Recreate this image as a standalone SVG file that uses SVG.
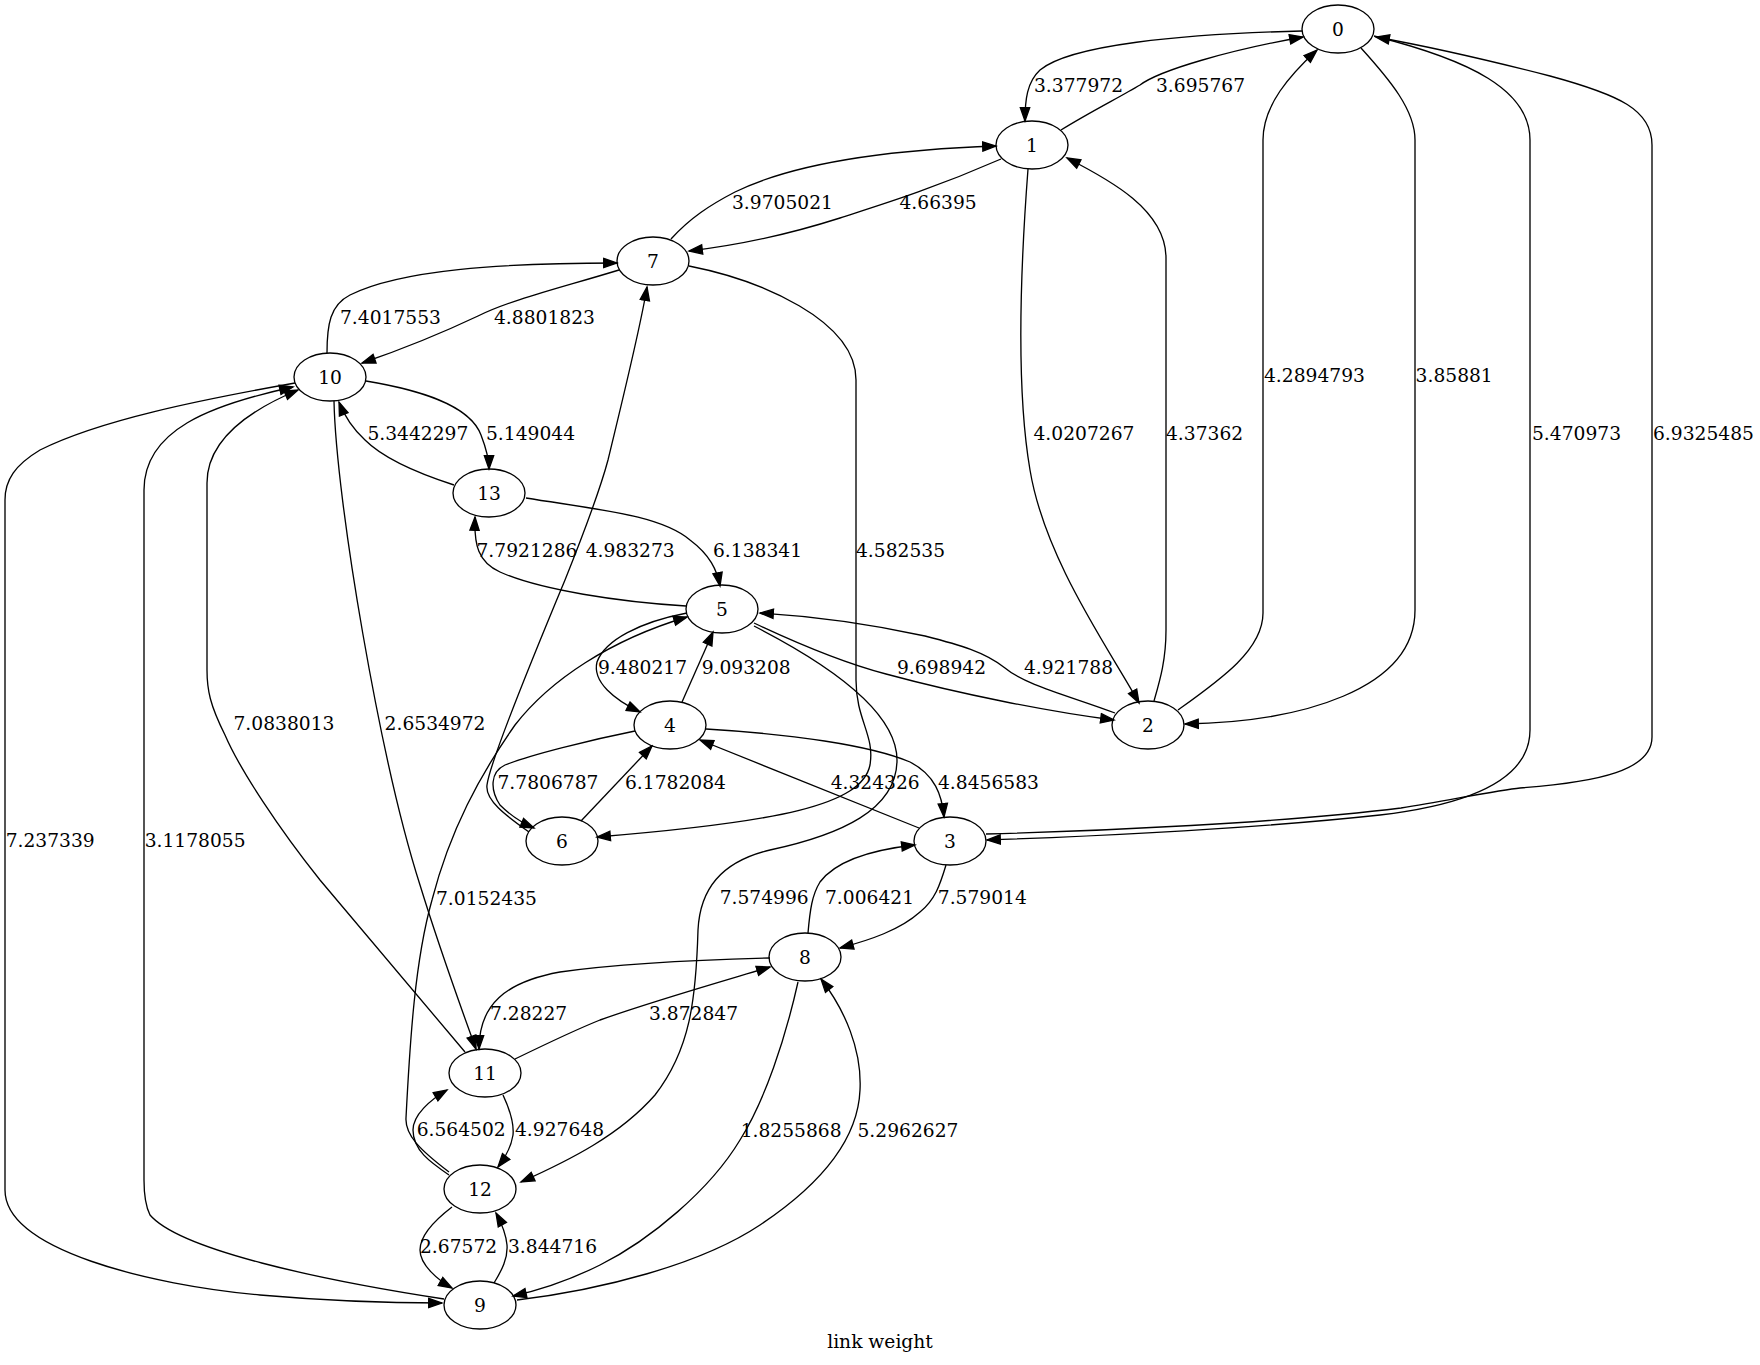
<svg xmlns="http://www.w3.org/2000/svg" width="1760" height="1365" viewBox="0 0 1760 1365">
<style>
.node ellipse{fill:none;stroke:#000;stroke-width:1.33}
text{font-family:"DejaVu Serif","Liberation Serif",serif;font-size:18.67px;fill:#000}
.node text{text-anchor:middle}
#edges path{fill:none;stroke:#000;stroke-width:1.33;marker-end:url(#arr)}
</style>
<defs>
<marker id="arr" markerUnits="userSpaceOnUse" markerWidth="16" markerHeight="12" viewBox="-1 -1 16 12" refX="13.3" refY="5" orient="auto">
<path d="M0,0.33 L13.3,5 L0,9.67 Z" fill="#000" stroke="#000" stroke-width="1.33"/>
</marker>
</defs>
<rect width="1760" height="1365" fill="#fff"/>
<g id="edges">
<path d="M1302,31 C1180,34 1070,45 1040,70 C1027,82 1025,100 1025,121"/>
<path d="M1061,130 C1090,112 1120,97 1140,85 C1160,70 1230,50 1303,37"/>
<path d="M1361,48 C1390,80 1415,110 1415,140 L1415,610 C1415,690 1300,722 1185,724"/>
<path d="M1178,710 C1220,680 1263,650 1263,613 L1263,140 C1263,105 1290,75 1317,50"/>
<path d="M1374,36 C1470,60 1530,90 1530,140 L1530,730 C1530,790 1440,808 1380,815 C1260,828 1100,836 987,840"/>
<path d="M986,834 C1100,831 1280,823 1401,808 C1450,800 1500,790 1520,788 C1600,782 1652,770 1652,737 L1652,145 C1652,110 1620,95 1550,76 C1480,58 1420,45 1376,37"/>
<path d="M1001,159 C930,190 880,205 840,218 C790,234 740,245 689,251"/>
<path d="M671,239 C690,218 710,205 735,192 C790,165 880,150 996,146"/>
<path d="M1028,169 C1018,300 1018,400 1030,470 C1045,560 1110,650 1139,703"/>
<path d="M1154,701 C1160,680 1166,660 1166,630 L1166,258 C1166,210 1110,180 1067,158"/>
<path d="M619,270 C560,288 510,300 478,316 C440,334 400,350 362,363"/>
<path d="M327,353 C327,325 330,305 350,295 C400,270 500,263 617,263"/>
<path d="M689,266 C760,280 856,320 856,380 L856,680 C856,720 875,735 870,765 C862,805 780,822 597,837"/>
<path d="M529,832 C505,815 485,800 487,785 C490,760 540,640 565,580 C585,530 600,490 608,460 C620,410 640,330 647,287"/>
<path d="M635,731 C590,740 530,755 505,765 C490,772 490,790 500,805 C510,815 520,822 534,828"/>
<path d="M581,821 L652,746"/>
<path d="M366,381 C420,390 470,405 481,435 C486,448 489,458 489,469"/>
<path d="M454,485 C420,474 385,460 365,440 C352,428 344,415 339,402"/>
<path d="M334,401 C336,500 380,760 420,885 C440,950 460,1005 476,1049"/>
<path d="M465,1052 L320,880 C280,830 240,770 225,735 C210,705 207,690 207,670 L207,483 C207,440 250,410 298,390"/>
<path d="M444,1299 C320,1280 180,1250 150,1215 C145,1205 144,1195 144,1180 L144,490 C144,430 210,405 293,387"/>
<path d="M295,383 C200,400 100,420 40,450 C15,465 5,480 5,500 L5,1190 C5,1250 150,1285 260,1295 C340,1302 400,1303 442,1303"/>
<path d="M526,498 C600,510 660,515 690,540 C710,555 717,570 720,586"/>
<path d="M686,606 C620,602 540,590 500,572 C478,562 474,545 475,517"/>
<path d="M687,613 C640,622 605,640 597,662 C592,682 615,700 640,712"/>
<path d="M682,702 L713,632"/>
<path d="M754,623 C790,640 840,662 886,674 C960,694 1050,712 1114,720"/>
<path d="M1115,713 C1070,696 1025,685 1005,668 C985,652 960,645 925,636 C870,624 810,616 760,613"/>
<path d="M754,626 C840,670 897,715 897,760 C897,810 840,835 770,850 C720,862 700,890 698,930 C696,1000 690,1050 655,1095 C620,1135 570,1160 521,1182"/>
<path d="M449,1172 C420,1150 405,1135 406,1118 C410,1040 415,960 432,900 C450,830 480,775 515,725 C550,680 610,640 687,617"/>
<path d="M706,729 C790,734 870,745 910,762 C935,775 942,795 944,817"/>
<path d="M919,828 L700,740"/>
<path d="M946,865 C940,885 935,900 920,912 C900,930 870,940 840,948"/>
<path d="M808,933 C810,910 812,895 820,882 C835,862 870,850 915,845"/>
<path d="M770,958 C690,960 610,965 560,972 C505,982 479,1005 479,1049"/>
<path d="M515,1059 C550,1042 580,1028 600,1020 C650,1002 720,982 770,967"/>
<path d="M798,982 C785,1040 765,1100 740,1140 C710,1190 650,1240 600,1265 C570,1280 540,1290 513,1296"/>
<path d="M517,1300 C600,1290 700,1265 760,1225 C820,1185 858,1140 860,1090 C862,1050 845,1010 821,979"/>
<path d="M503,1095 C510,1110 514,1125 513,1135 C511,1148 505,1158 498,1167"/>
<path d="M449,1175 C430,1162 413,1150 413,1130 C413,1115 430,1100 447,1090"/>
<path d="M452,1207 C435,1220 420,1235 420,1250 C420,1265 438,1280 452,1288"/>
<path d="M494,1283 C502,1270 508,1258 507,1245 C506,1235 502,1224 496,1213"/>
</g>
<g id="edge-labels">
<text x="1034" y="92">3.377972</text>
<text x="1156" y="92">3.695767</text>
<text x="732" y="208.5">3.9705021</text>
<text x="899.5" y="208.5">4.66395</text>
<text x="340" y="323.5">7.4017553</text>
<text x="494" y="323.5">4.8801823</text>
<text x="1264" y="382">4.2894793</text>
<text x="1415.6" y="382">3.85881</text>
<text x="1033.5" y="440">4.0207267</text>
<text x="1166" y="440">4.37362</text>
<text x="1532" y="440">5.470973</text>
<text x="1653" y="440">6.9325485</text>
<text x="367.4" y="440">5.3442297</text>
<text x="486" y="440">5.149044</text>
<text x="476.5" y="557">7.7921286</text>
<text x="585.7" y="557">4.983273</text>
<text x="713" y="557">6.138341</text>
<text x="856" y="557">4.582535</text>
<text x="598" y="673.5">9.480217</text>
<text x="701.7" y="673.5">9.093208</text>
<text x="897" y="673.5">9.698942</text>
<text x="1024" y="673.5">4.921788</text>
<text x="233.5" y="730">7.0838013</text>
<text x="384.6" y="730">2.6534972</text>
<text x="497.5" y="788.5">7.7806787</text>
<text x="625" y="788.5">6.1782084</text>
<text x="830.7" y="788.5">4.324326</text>
<text x="938" y="788.5">4.8456583</text>
<text x="5.7" y="847">7.237339</text>
<text x="144.7" y="847">3.1178055</text>
<text x="436" y="905">7.0152435</text>
<text x="719.7" y="903.5">7.574996</text>
<text x="825" y="903.5">7.006421</text>
<text x="937.8" y="903.5">7.579014</text>
<text x="490" y="1020">7.28227</text>
<text x="649" y="1020">3.872847</text>
<text x="416.7" y="1136">6.564502</text>
<text x="515" y="1136">4.927648</text>
<text x="740.7" y="1137">1.8255868</text>
<text x="857.5" y="1137">5.2962627</text>
<text x="420" y="1253">2.67572</text>
<text x="508" y="1253">3.844716</text>
</g>
<g id="node0" class="node"><ellipse cx="1338" cy="29" rx="36" ry="24"/><text x="1338" y="35.8">0</text></g>
<g id="node1" class="node"><ellipse cx="1032" cy="145" rx="36" ry="24"/><text x="1032" y="151.8">1</text></g>
<g id="node7" class="node"><ellipse cx="653" cy="261" rx="36" ry="24"/><text x="653" y="267.8">7</text></g>
<g id="node10" class="node"><ellipse cx="330" cy="377" rx="36" ry="24"/><text x="330" y="383.8">10</text></g>
<g id="node13" class="node"><ellipse cx="489" cy="493" rx="36" ry="24"/><text x="489" y="499.8">13</text></g>
<g id="node5" class="node"><ellipse cx="722" cy="609" rx="36" ry="24"/><text x="722" y="615.8">5</text></g>
<g id="node2" class="node"><ellipse cx="1148" cy="725" rx="36" ry="24"/><text x="1148" y="731.8">2</text></g>
<g id="node4" class="node"><ellipse cx="670" cy="725" rx="36" ry="24"/><text x="670" y="731.8">4</text></g>
<g id="node6" class="node"><ellipse cx="562" cy="841" rx="36" ry="24"/><text x="562" y="847.8">6</text></g>
<g id="node3" class="node"><ellipse cx="950" cy="841" rx="36" ry="24"/><text x="950" y="847.8">3</text></g>
<g id="node8" class="node"><ellipse cx="805" cy="957" rx="36" ry="24"/><text x="805" y="963.8">8</text></g>
<g id="node11" class="node"><ellipse cx="485" cy="1073" rx="36" ry="24"/><text x="485" y="1079.8">11</text></g>
<g id="node12" class="node"><ellipse cx="480" cy="1189" rx="36" ry="24"/><text x="480" y="1195.8">12</text></g>
<g id="node9" class="node"><ellipse cx="480" cy="1305" rx="36" ry="24"/><text x="480" y="1311.8">9</text></g>
<text x="880" y="1348" text-anchor="middle">link weight</text>
</svg>
